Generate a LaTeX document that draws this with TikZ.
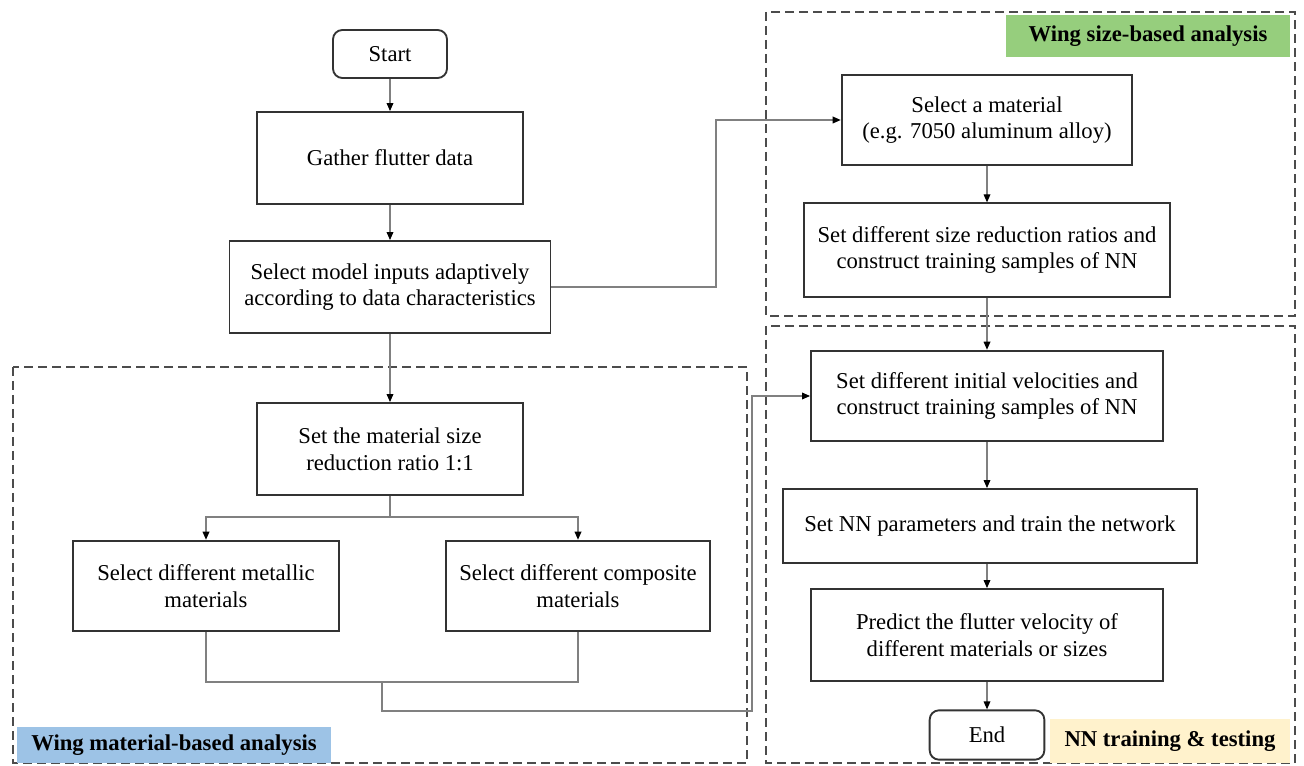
\documentclass[tikz,border=0pt]{standalone}
\usepackage{fontspec}
\setmainfont{Liberation Serif}
\usetikzlibrary{arrows, arrows.meta}
\definecolor{sizegreen}{RGB}{150,206,125}
\definecolor{matblue}{RGB}{157,195,230}
\definecolor{nnyellow}{RGB}{255,242,204}
\tikzset{
  box/.style={draw=black!80, line width=1.4pt, align=center, inner sep=2pt,
    font=\fontsize{17}{20}\selectfont},
  term/.style={box, rounded corners=7pt},
  link/.style={draw=black!50, line width=0.9pt},
  flow/.style={link, -{Triangle[length=6pt, width=5pt, color=black]}},
  region/.style={draw=black!70, line width=1.5pt, dash pattern=on 7pt off 3.5pt},
  tag/.style={inner sep=0pt, font=\bfseries\fontsize{17}{20}\selectfont}
}

\begin{document}
\begin{tikzpicture}[x=0.75pt, y=-0.75pt]
\useasboundingbox (0,0) rectangle (1304,766);

% dashed regions and their tags
\draw[region] (13,367) rectangle (747,763);
\draw[region] (766,12) rectangle (1295,316);
\draw[region] (766,326) rectangle (1295,763);
\node[tag, fill=sizegreen, minimum width=213pt, minimum height=32pt] (sizetag) at (1148,36) {Wing size-based analysis};
\node[tag, fill=matblue, minimum width=235pt, minimum height=27pt] (mattag) at (174,745) {Wing material-based analysis};
\node[tag, fill=nnyellow, minimum width=180pt, minimum height=33pt] (nntag) at (1170,741) {NN training \& testing};

% left column
\node[term, minimum width=85.5pt, minimum height=36pt] (start) at (390,54) {Start};
\node[box, minimum width=199.5pt, minimum height=69pt] (gather) at (390,158) {Gather flutter data};
\node[box, minimum width=240.75pt, minimum height=69pt] (inputs) at (390,287) {Select model inputs adaptively\\according to data characteristics};
\node[box, minimum width=199.5pt, minimum height=69pt] (ratio) at (390,449) {Set the material size\\reduction ratio 1:1};
\node[box, minimum width=199.5pt, minimum height=68pt] (metal) at (206,586) {Select different metallic\\materials};
\node[box, minimum width=198pt, minimum height=68pt] (compo) at (578,586) {Select different composite\\materials};

% right column
\node[box, minimum width=218pt, minimum height=67pt] (mater) at (987,120) {Select a material\\(e.g. 7050 aluminum alloy)};
\node[box, minimum width=274pt, minimum height=70pt] (sizes) at (987,250) {Set different size reduction ratios and\\construct training samples of NN};
\node[box, minimum width=264pt, minimum height=68pt] (veloc) at (987,396) {Set different initial velocities and\\construct training samples of NN};
\node[box, minimum width=311pt, minimum height=55.5pt] (param) at (990,526) {Set NN parameters and train the network};
\node[box, minimum width=264pt, minimum height=69pt] (predict) at (987,635) {Predict the flutter velocity of\\different materials or sizes};
\node[term, minimum width=86pt, minimum height=37pt] (end) at (987,735) {End};

% connectors
\coordinate (turn) at (716,287);
\coordinate (split) at (390,517);
\coordinate (join) at (382,682);
\coordinate (back) at (752,711);

\draw[flow] (start) -- (gather);
\draw[flow] (gather) -- (inputs);
\draw[flow] (inputs) -- (ratio);
\draw[flow] (inputs.east) -- (turn) |- (mater.west);
\draw[flow] (mater) -- (sizes);
\draw[flow] (sizes) -- (veloc);
\draw[link] (ratio.south) -- (split);
\draw[flow] (split) -| (metal.north);
\draw[flow] (split) -| (compo.north);
\draw[link] (metal.south) |- (join) -| (compo.south);
\draw[flow] (join) |- (back) |- (veloc.west);
\draw[flow] (veloc.south) -- (veloc.south |- param.north);
\draw[flow] (param.south -| predict.north) -- (predict.north);
\draw[flow] (predict) -- (end);
\end{tikzpicture}
\end{document}
